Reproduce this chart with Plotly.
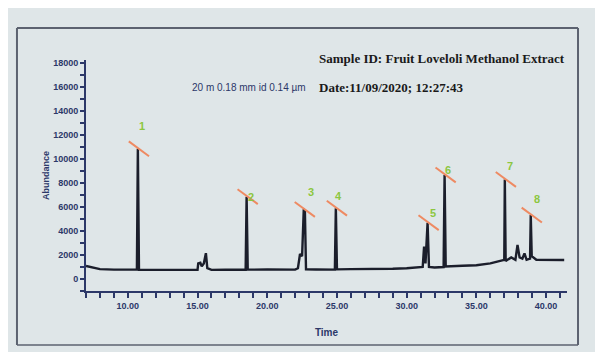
import plotly.graph_objects as go

# Chromatogram trace (time in min, abundance)
time = [7.0, 7.4, 8.0, 9.0, 10.0, 10.65, 10.72, 10.80, 12.0, 13.0, 14.0, 15.0, 15.05, 15.2, 15.3,
        15.45, 15.6, 15.7, 16.0, 17.0, 18.0, 18.45, 18.52, 18.6, 20.0, 21.0, 22.0, 22.2, 22.35,
        22.5, 22.62, 22.7, 22.78, 23.5, 24.5, 24.85, 24.92, 25.0, 26.0, 27.0, 28.0, 29.0, 30.0,
        31.0, 31.15, 31.25, 31.35, 31.5, 31.6, 32.0, 32.65, 32.72, 32.8, 34.0, 35.0, 36.0, 36.6,
        37.0, 37.04, 37.1, 37.5, 37.8, 37.95, 38.1, 38.3, 38.45, 38.6, 38.85, 38.9, 38.97, 39.3,
        40.0, 41.0, 41.3]
abundance = [1080, 950, 820, 780, 790, 780, 10850, 760, 760, 790, 760, 770, 1300, 1350, 1050,
             1300, 2150, 900, 760, 770, 760, 770, 6860, 780, 790, 760, 780, 900, 2080,
             1900, 5800, 5700, 800, 790, 790, 780, 5900, 800, 820, 820, 800, 850, 900,
             950, 1000, 2700, 1300, 4690, 1000, 960, 1000, 8670, 1050, 1100, 1150, 1300, 1450,
             1600, 8300, 1500, 1800, 1600, 2830, 1800, 1700, 2140, 1600, 1700, 5330, 1900, 1600,
             1580, 1550, 1580]

# Numbered peaks
peak_ids = ["1", "2", "3", "4", "5", "6", "7", "8"]
peak_time = [10.72, 18.52, 22.62, 24.92, 31.5, 32.72, 37.04, 38.9]
peak_top = [10850, 6860, 5800, 5900, 4690, 8670, 8300, 5330]
label_time = [11.02, 18.86, 23.11, 25.14, 31.88, 32.94, 37.40, 39.32]
label_abund = [12750, 6860, 7280, 6920, 5530, 9080, 9420, 6640]

x_tickvals = [10, 15, 20, 25, 30, 35, 40]
x_ticktext = ["10.00", "15.00", "20.00", "25.00", "30.00", "35.00", "40.00"]
y_tickvals = [0, 2000, 4000, 6000, 8000, 10000, 12000, 14000, 16000, 18000]
y_ticktext = ["0", "2000", "4000", "6000", "8000", "10000", "12000", "14000", "16000", "18000"]

BG = "#dfe6e8"
NAVY = "#2c3868"
FRAME = "#5c6270"

fig = go.Figure()
fig.add_trace(go.Scatter(x=time, y=abundance, mode="lines",
                         line=dict(color="#1b1e2b", width=2.4), hoverinfo="skip", showlegend=False))

shapes = []
for t, h in zip(peak_time, peak_top):
    shapes.append(dict(type="line", xref="x", yref="y", x0=t - 0.65, y0=h + 620, x1=t + 0.8, y1=h - 620,
                       line=dict(color="#ee8a62", width=2)))

# outer frame
frame = dict(color=FRAME, width=2)
shapes += [
    dict(type="line", xref="paper", yref="paper", x0=-0.1435, y0=1.1385, x1=1.0229, y1=1.1385, line=frame),
    dict(type="line", xref="paper", yref="paper", x0=-0.1435, y0=1.1385, x1=-0.1435, y1=-0.2338, line=frame),
    dict(type="line", xref="paper", yref="paper", x0=1.0229, y0=1.1385, x1=1.0229, y1=-0.2338, line=frame),
    dict(type="line", xref="paper", yref="paper", x0=-0.1435, y0=-0.2338, x1=1.0229, y1=-0.2338,
         line=dict(color=FRAME, width=1.5)),
    dict(type="line", xref="paper", yref="paper", x0=1.0637, y0=-0.125, x1=1.0637, y1=-0.23,
         line=dict(color="#444", width=1.5)),
]

annotations = []
for pid, lt, la in zip(peak_ids, label_time, label_abund):
    annotations.append(dict(x=lt, y=la, xref="x", yref="y", text=f"<b>{pid}</b>", showarrow=False,
                            font=dict(family="Liberation Sans", size=11, color="#8cc63f")))

annotations += [
    dict(x=0.480, y=1.007, xref="paper", yref="paper", xanchor="left", yanchor="middle", showarrow=False,
         text="<b>Sample ID: Fruit Loveloli Methanol Extract</b>",
         font=dict(family="Liberation Serif", size=13, color="#1a1a1a")),
    dict(x=0.480, y=0.880, xref="paper", yref="paper", xanchor="left", yanchor="middle", showarrow=False,
         text="<b>Date:11/09/2020; 12:27:43</b>",
         font=dict(family="Liberation Serif", size=13, color="#1a1a1a")),
    dict(x=0.4615, y=0.879, xref="paper", yref="paper", xanchor="right", yanchor="middle", showarrow=False,
         text="20 m 0.18 mm id 0.14 µm",
         font=dict(family="Liberation Sans", size=10, color=NAVY)),
]

fig.update_layout(
    width=595, height=344,
    margin=dict(l=78, r=36, t=52, b=61),
    paper_bgcolor=BG, plot_bgcolor=BG,
    shapes=shapes, annotations=annotations,
    xaxis=dict(range=[7, 41.5], tickvals=x_tickvals, ticktext=[f"<b>{s}</b>" for s in x_ticktext],
               automargin=False,
               showgrid=False, zeroline=False, showline=True, linecolor=NAVY, linewidth=2,
               ticks="outside", ticklen=5, tickwidth=1.5, tickcolor=NAVY,
               minor=dict(dtick=1, tick0=0, ticks="outside", ticklen=5, tickwidth=1.5, tickcolor=NAVY),
               tickfont=dict(family="Liberation Sans", size=9, color=NAVY),
               title=dict(text="<b>Time</b>", font=dict(family="Liberation Sans", size=10, color=NAVY),
                          standoff=19)),
    yaxis=dict(range=[-1000, 18250], tickvals=y_tickvals, ticktext=[f"<b>{s}</b>" for s in y_ticktext],
               automargin=False,
               showgrid=False, zeroline=False, showline=True, linecolor=NAVY, linewidth=2,
               ticks="outside", ticklen=4, tickwidth=1.5, tickcolor=NAVY,
               minor=dict(dtick=1000, tick0=0, ticks="outside", ticklen=4, tickwidth=1.5, tickcolor=NAVY),
               tickfont=dict(family="Liberation Sans", size=9, color=NAVY),
               title=dict(text="<b>Abundance</b>", font=dict(family="Liberation Sans", size=9, color=NAVY),
                          standoff=2)),
)

fig.write_html("out.html")
